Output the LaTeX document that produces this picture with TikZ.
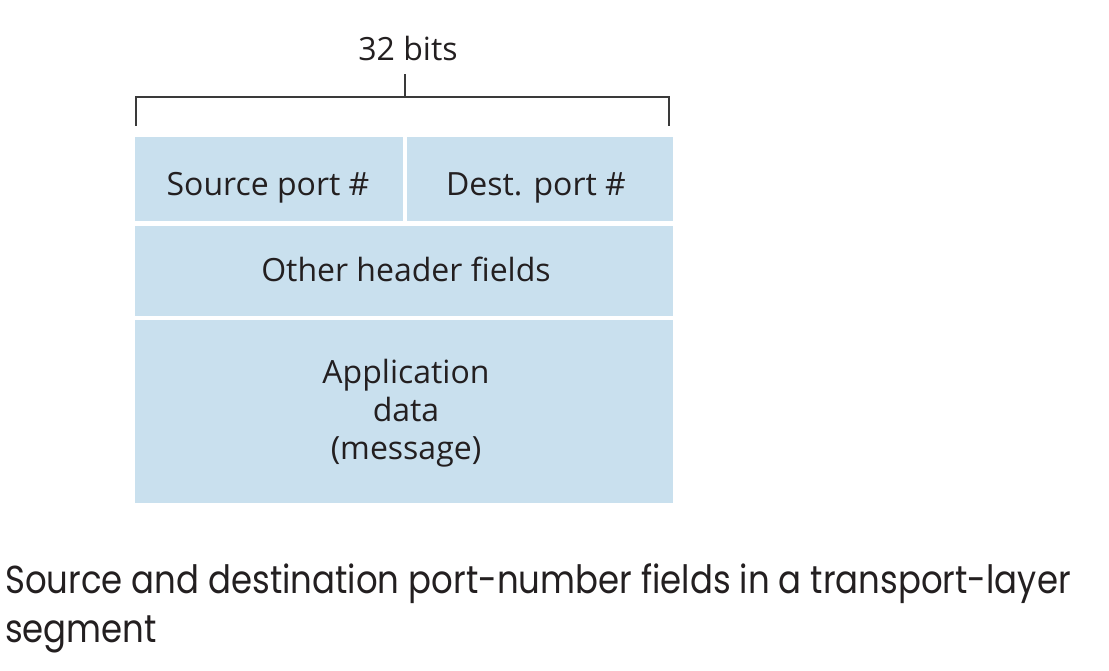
\documentclass[tikz,border=0pt]{standalone}
\usepackage{fontspec}
\setmainfont{Open Sans}
\newfontfamily\capfont{Poppins}[FakeStretch=0.87]
\definecolor{fieldblue}{HTML}{C9E0EE}
\definecolor{ink}{HTML}{231F20}
\definecolor{brkgray}{HTML}{3A3A3A}
\begin{document}
\begin{tikzpicture}[x=1pt,y=-1pt,
  field/.style={fill=fieldblue, draw=none, inner sep=0pt},
  lbl/.style={text=ink, inner sep=0pt, anchor=base, font=\fontsize{32}{37.5}\selectfont},
  captext/.style={text=ink, inner sep=0pt, anchor=base west, font=\capfont\fontsize{39}{48}\selectfont},
  brk/.style={draw=brkgray, line width=1.6pt}]
\useasboundingbox (0,0) rectangle (1109,671);
% fields
\node[field, minimum width=268pt, minimum height=84pt] (src) at (269,179) {};
\node[field, minimum width=266pt, minimum height=84pt] (dst) at (540,179) {};
\node[field, minimum width=538pt, minimum height=90pt] (oth) at (404,271) {};
\node[field, minimum width=538pt, minimum height=183pt] (app) at (404,411.5) {};
% labels
\node[lbl] (tsrc) at (268,196) {Source port \#};
\node[lbl] (tdst) at (536,196) {Dest. port \#};
\node[lbl] (toth) at (406,282) {Other header fields};
\node[lbl] (tapp1) at (406,383) {Application};
\node[lbl] (tapp2) at (406,421) {data};
\node[lbl] (tapp3) at (406,459) {(message)};
% bracket
\coordinate (bl) at (136,126);
\coordinate (br) at (669,126);
\coordinate (bm) at (405,97);
\coordinate (bt) at (405,74);
\node[lbl] (bits) at (408,61) {32 bits};
\draw[brk] (bl) |- (br |- bm) -- (br);
\draw[brk] (bm) -- (bt);
% caption
\node[captext] (c1) at (5,593) {Source and destination port-number fields in a transport-layer};
\node[captext] (c2) at (5,642) {segment};
\end{tikzpicture}
\end{document}
